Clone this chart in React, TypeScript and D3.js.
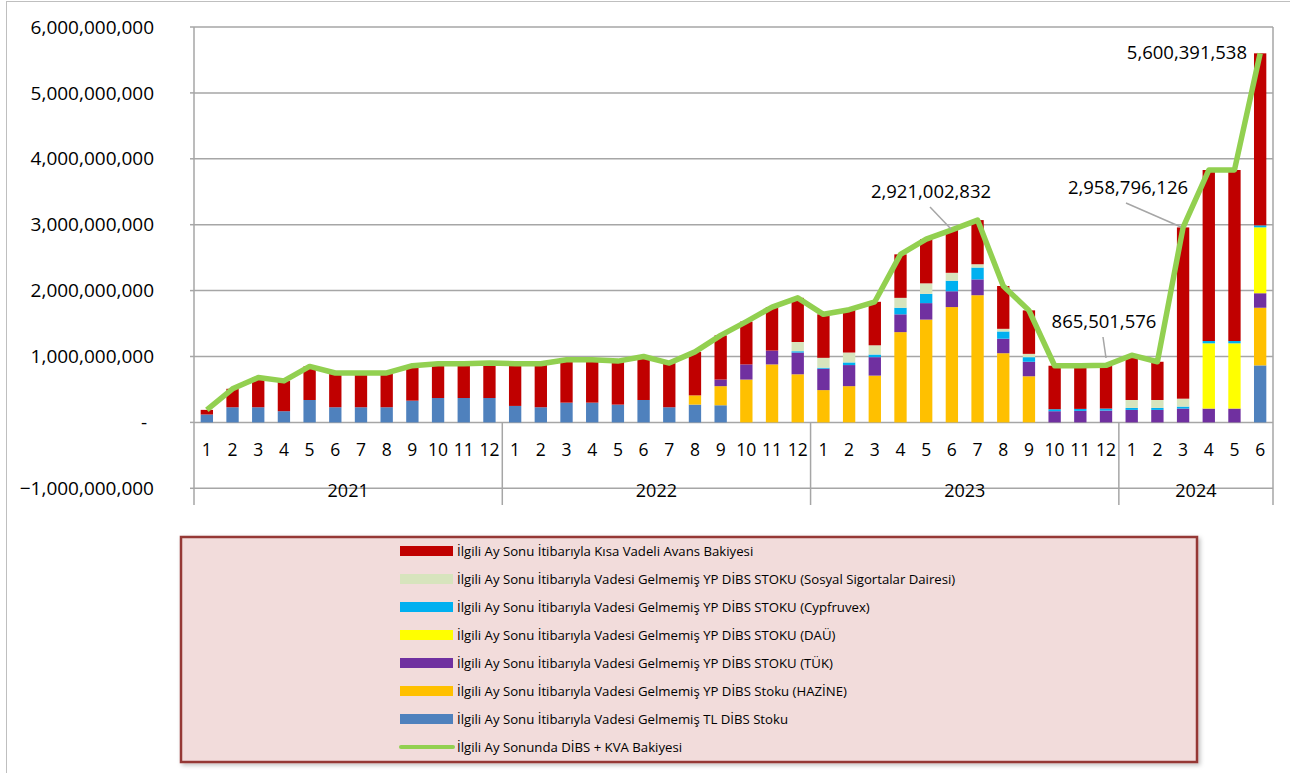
import React from "react";
import * as d3 from "d3";

// ---- data (values in millions of TL) ----
const years = ["2021", "2022", "2023", "2024"];
const monthsPerYear = [12, 12, 12, 6];
const categories: string[] = [];
years.forEach((yr, i) => {
  for (let m = 1; m <= monthsPerYear[i]; m++) categories.push(`${yr}-${m}`);
});

const tlStock = [
  120, 230, 230, 170, 340, 230, 230, 230, 330, 370, 370, 370,
  250, 230, 300, 300, 270, 340, 230, 270, 260, 0, 0, 0,
  0, 0, 0, 0, 0, 0, 0, 0, 0, 0, 0, 0,
  0, 0, 0, 0, 0, 865,
];
const hazine = [
  0, 0, 0, 0, 0, 0, 0, 0, 0, 0, 0, 0,
  0, 0, 0, 0, 0, 0, 0, 140, 290, 650, 880, 730,
  490, 550, 710, 1370, 1560, 1750, 1930, 1050, 700, 0, 0, 0,
  0, 0, 0, 0, 0, 875,
];
const tuk = [
  0, 0, 0, 0, 0, 0, 0, 0, 0, 0, 0, 0,
  0, 0, 0, 0, 0, 0, 0, 0, 100, 230, 210, 330,
  325, 320, 280, 270, 250, 240, 240, 220, 220, 170, 175, 180,
  190, 190, 210, 210, 210, 220,
];
const dau = [
  0, 0, 0, 0, 0, 0, 0, 0, 0, 0, 0, 0,
  0, 0, 0, 0, 0, 0, 0, 0, 0, 0, 0, 0,
  0, 0, 0, 0, 0, 0, 0, 0, 0, 0, 0, 0,
  0, 0, 0, 990, 990, 1000,
];
const cypfruvex = [
  0, 0, 0, 0, 0, 0, 0, 0, 0, 0, 0, 0,
  0, 0, 0, 0, 0, 0, 0, 0, 0, 0, 0, 20,
  15, 40, 40, 100, 140, 160, 180, 110, 70, 30, 30, 30,
  30, 30, 30, 35, 35, 30,
];
const sosyal = [
  0, 0, 0, 0, 0, 0, 0, 0, 0, 0, 0, 0,
  0, 0, 0, 0, 0, 0, 0, 0, 0, 0, 0, 140,
  150, 150, 140, 150, 160, 120, 50, 40, 50, 0, 0, 0,
  120, 120, 120, 0, 0, 0,
];
const kva = [
  70, 280, 450, 460, 510, 520, 520, 520, 530, 520, 520, 530,
  640, 660, 650, 650, 660, 660, 670, 660, 670, 650, 660, 670,
  660, 650, 660, 660, 670, 651.002832, 670, 650, 660, 660, 655, 655.501576,
  680, 580, 2598.796126, 2595, 2595, 2610.391538,
];
const totalLine = [
  190, 510, 680, 630, 850, 750, 750, 750, 860, 890, 890, 900,
  890, 890, 950, 950, 930, 1000, 900, 1070, 1320, 1530, 1750, 1890,
  1640, 1710, 1830, 2550, 2780, 2921.002832, 3070, 2070, 1700, 860, 860, 865.501576,
  1020, 920, 2958.796126, 3830, 3830, 5600.391538,
];
const yTicks = [-1000, 0, 1000, 2000, 3000, 4000, 5000, 6000];

const seriesKeys = ["tl", "hazine", "tuk", "dau", "cyp", "sosyal", "kva"];
const seriesColors: Record<string, string> = {
  tl: "#4F81BD",
  hazine: "#FFC000",
  tuk: "#7030A0",
  dau: "#FFFF00",
  cyp: "#00B0F0",
  sosyal: "#D7E4BD",
  kva: "#C00000",
};
const legendItems = [
  { key: "kva", label: "İlgili Ay Sonu İtibarıyla Kısa Vadeli Avans Bakiyesi" },
  { key: "sosyal", label: "İlgili Ay Sonu İtibarıyla Vadesi Gelmemiş YP DİBS STOKU (Sosyal Sigortalar Dairesi)" },
  { key: "cyp", label: "İlgili Ay Sonu İtibarıyla Vadesi Gelmemiş YP DİBS STOKU (Cypfruvex)" },
  { key: "dau", label: "İlgili Ay Sonu İtibarıyla Vadesi Gelmemiş YP DİBS STOKU (DAÜ)" },
  { key: "tuk", label: "İlgili Ay Sonu İtibarıyla Vadesi Gelmemiş YP DİBS STOKU (TÜK)" },
  { key: "hazine", label: "İlgili Ay Sonu İtibarıyla Vadesi Gelmemiş YP DİBS Stoku (HAZİNE)" },
  { key: "tl", label: "İlgili Ay Sonu İtibarıyla Vadesi Gelmemiş TL DİBS Stoku" },
  { key: "line", label: "İlgili Ay Sonunda DİBS  + KVA Bakiyesi" },
];

// annotated points: index into categories, label placement
const annotations = [
  { idx: 29, tx: 931, ty: 192, anchor: "middle", leader: [930, 207, 951, 229] },
  { idx: 35, tx: 1104, ty: 322, anchor: "middle", leader: [1103, 337, 1106, 358] },
  { idx: 38, tx: 1128, ty: 188, anchor: "middle", leader: [1126, 203, 1181, 227] },
  { idx: 41, tx: 1247, ty: 53, anchor: "end", leader: null as null | number[] },
];

const FONT = "'Open Sans', 'DejaVu Sans', sans-serif";

export default function App() {
  const W = 1290, H = 773;
  const left = 194, right = 1273, top = 27;
  const yMin = -1000, yMax = 6000;
  const y = d3.scaleLinear().domain([yMin, yMax]).range([488.3, top]);
  const x = d3.scaleBand<string>().domain(categories).range([left, right]).paddingInner(0.52).paddingOuter(0.26);
  const axisBottom = 505;

  const rows = categories.map((c, i) => ({
    cat: c,
    tl: tlStock[i],
    hazine: hazine[i],
    tuk: tuk[i],
    dau: dau[i],
    cyp: cypfruvex[i],
    sosyal: sosyal[i],
    kva: kva[i],
  }));
  const stacked = d3.stack<any>().keys(seriesKeys)(rows);

  const line = d3
    .line<number>()
    .x((_, i) => (x(categories[i]) as number) + x.bandwidth() / 2)
    .y((d) => y(d));

  const fmt = d3.format(",");
  const tickLabel = (v: number) => (v === 0 ? "-" : fmt(v * 1e6));

  let acc = 0;
  const yearGroups = years.map((yr, i) => {
    const start = acc;
    acc += monthsPerYear[i];
    const x0 = (x(categories[start]) as number) - (x.step() * x.paddingInner()) / 2;
    const x1 = (x(categories[acc - 1]) as number) + x.bandwidth() + (x.step() * x.paddingInner()) / 2;
    return { yr, x0, x1 };
  });

  const grid = "#A6A6A6";

  return (
    <svg
      width={W}
      height={H}
      style={{ position: "absolute", left: 0, top: 0, background: "#fff" }}
      fontFamily={FONT}
    >
      <defs>
        <filter id="shadow" x="-5%" y="-5%" width="110%" height="115%">
          <feDropShadow dx="2" dy="2" stdDeviation="2" floodColor="#000" floodOpacity="0.25" />
        </filter>
      </defs>
      <rect x={6.5} y={1.5} width={1400} height={900} fill="none" stroke="#BFBFBF" strokeWidth={1} />

      {yTicks.map((t) => (
        <line key={t} x1={left} x2={right} y1={y(t)} y2={y(t)} stroke={grid} strokeWidth={1.5} />
      ))}
      {yTicks.map((t) => (
        <line key={"tk" + t} x1={left - 4} x2={left} y1={y(t)} y2={y(t)} stroke={grid} strokeWidth={1.5} />
      ))}
      {yTicks.map((t) => (
        <text
          key={"lb" + t}
          x={t === 0 ? 147 : 154}
          y={y(t)}
          dy="0.35em"
          textAnchor="end"
          fontSize={19}
          fill="#000"
        >
          {tickLabel(t)}
        </text>
      ))}

      {stacked.map((s) => (
        <g key={s.key} fill={seriesColors[s.key]}>
          {s.map((d, i) => {
            const h = y(d[0]) - y(d[1]);
            if (h <= 0.01) return null;
            return (
              <rect
                key={i}
                x={x(categories[i]) as number}
                y={y(d[1])}
                width={x.bandwidth()}
                height={h}
              />
            );
          })}
        </g>
      ))}

      <line x1={left} x2={left} y1={top} y2={axisBottom} stroke={grid} strokeWidth={1.5} />
      <line x1={right} x2={right} y1={top} y2={axisBottom} stroke={grid} strokeWidth={1.5} />
      {yearGroups.slice(1).map((g) => (
        <line key={"sep" + g.yr} x1={g.x0} x2={g.x0} y1={y(0)} y2={axisBottom} stroke={grid} strokeWidth={1.5} />
      ))}

      {categories.map((c) => (
        <text
          key={"m" + c}
          x={(x(c) as number) + x.bandwidth() / 2}
          y={450}
          dy="0.35em"
          textAnchor="middle"
          fontSize={17.5}
          fill="#000"
        >
          {c.split("-")[1]}
        </text>
      ))}
      {yearGroups.map((g) => (
        <text
          key={"y" + g.yr}
          x={(g.x0 + g.x1) / 2}
          y={491}
          dy="0.35em"
          textAnchor="middle"
          fontSize={18}
          fill="#000"
        >
          {g.yr}
        </text>
      ))}

      <path
        d={line(totalLine) || ""}
        fill="none"
        stroke="#92D050"
        strokeWidth={5.5}
        strokeLinejoin="round"
      />

      {annotations.map((a) => (
        <g key={"an" + a.idx}>
          {a.leader && (
            <line
              x1={a.leader[0]}
              y1={a.leader[1]}
              x2={a.leader[2]}
              y2={a.leader[3]}
              stroke="#A6A6A6"
              strokeWidth={1.5}
            />
          )}
          <text x={a.tx} y={a.ty} dy="0.35em" textAnchor={a.anchor as any} fontSize={18.5} fill="#000">
            {fmt(Math.round(totalLine[a.idx] * 1e6))}
          </text>
        </g>
      ))}

      <rect
        x={181}
        y={537}
        width={1016}
        height={225}
        fill="#F2DCDB"
        stroke="#953735"
        strokeWidth={2.5}
        filter="url(#shadow)"
      />
      {legendItems.map((it, i) => {
        const cy = 551 + i * 28;
        return (
          <g key={"lg" + it.key}>
            {it.key === "line" ? (
              <line x1={401} x2={453} y1={cy} y2={cy} stroke="#92D050" strokeWidth={4} strokeLinecap="round" />
            ) : (
              <rect x={400} y={cy - 5} width={53} height={10} fill={seriesColors[it.key]} />
            )}
            <text x={457} y={cy} dy="0.35em" fontSize={13.2} fill="#000">
              {it.label}
            </text>
          </g>
        );
      })}
    </svg>
  );
}
